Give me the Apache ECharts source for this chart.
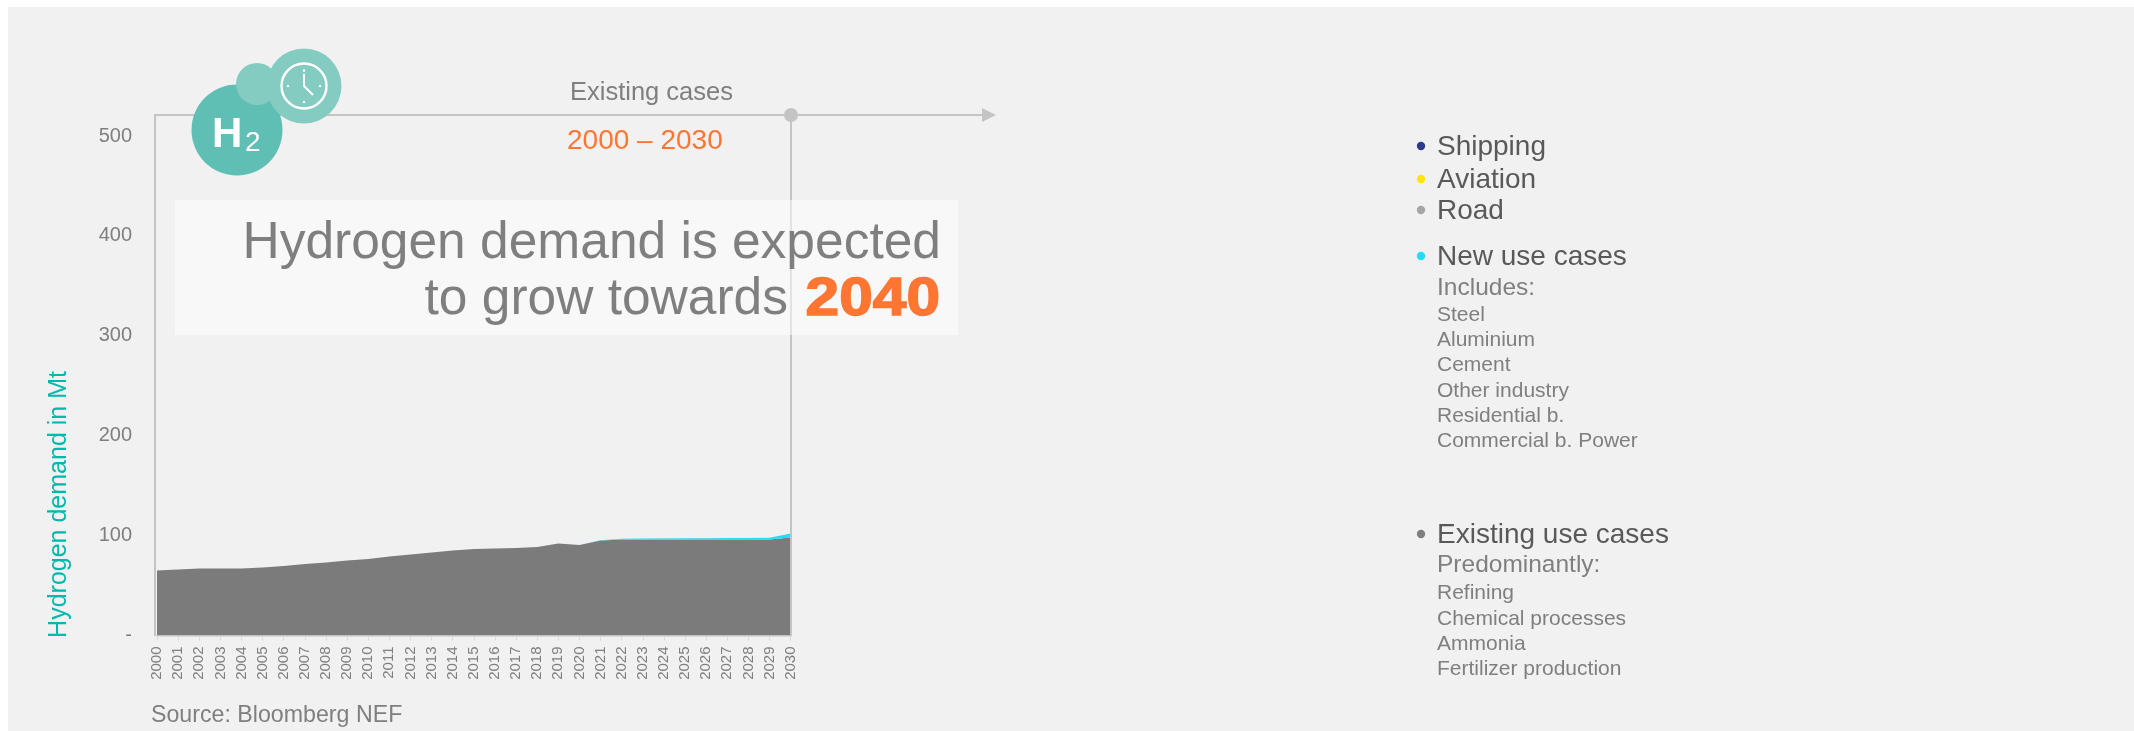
<!DOCTYPE html>
<html><head><meta charset="utf-8">
<style>html,body{margin:0;padding:0;background:#fff}#c{width:2134px;height:731px}</style>
<script src="https://cdn.jsdelivr.net/npm/echarts@6/dist/echarts.min.js"></script>
</head><body><div id="c"></div>
<script>
const years = ['2000','2001','2002','2003','2004','2005','2006','2007','2008','2009','2010','2011','2012','2013','2014','2015','2016','2017','2018','2019','2020','2021','2022','2023','2024','2025','2026','2027','2028','2029','2030'];
const existingUse = [65,66,67,67,67,68,69.5,71.5,73,75,76.5,79,81,83,85,86.5,87,87.5,88.5,92,90.5,95,96,96,96,96,96,96,96,96,98];
const newUse = [0,0,0,0,0,0,0,0,0,0,0,0,0,0,0,0,0,0,0,0,0,0.4,0.8,1,1.2,1.3,1.4,1.5,1.5,1.8,4];
const road = [0,0,0,0,0,0,0,0,0,0,0,0,0,0,0,0,0,0,0,0,0,0,0.1,0.1,0.1,0.1,0.1,0.1,0.1,0.1,0.2];
const aviation = [0,0,0,0,0,0,0,0,0,0,0,0,0,0,0,0,0,0,0,0,0,0,0,0,0,0,0,0,0,0,0];
const shipping = [0,0,0,0,0,0,0,0,0,0,0,0,0,0,0,0,0,0,0,0,0,0,0,0,0,0,0,0,0,0,0];

const FONT = '"Liberation Sans", Arial, sans-serif';
const GREY = '#7f7f7f', DARK = '#595959', LINE = '#c4c4c4', ORANGE = '#ff7532', TEAL = '#5fbfb4', TEAL2 = '#84ccc1';

const chart = echarts.init(document.getElementById('c'), null, {renderer:'canvas'});
const G = {left:157, right:790.7, top:136, bottom:635.5};

function areaSeries(name, data, color){
  return {name, type:'line', stack:'h2', data, symbol:'none', silent:true,
    lineStyle:{width:0}, areaStyle:{color, opacity:1}, itemStyle:{color}, z:3};
}
function text(x,y,t,size,fill,style,el){
  return Object.assign({type:'text', x, y, z:20, style:Object.assign({text:t, font:`${size}px ${FONT}`, fill, verticalAlign:'middle'}, style||{})}, el||{});
}
function dot(x,y,fill){ return {type:'circle', z:20, shape:{cx:x,cy:y,r:4.2}, style:{fill}}; }

// legend column: text y, marker y (when it has one), label, font size, colour, marker colour
const LX = 1437, DX = 1421;
const legendEntries = [
  [147,146,'Shipping',28,DARK,'#2e3a8c'],[180,179,'Aviation',28,DARK,'#ffe600'],[211,210,'Road',28,DARK,'#a6a6a6'],
  [257,256,'New use cases',28,DARK,'#22dcf5'],[288,0,'Includes:',24.5,GREY],
  [315,0,'Steel',21,GREY],[340,0,'Aluminium',21,GREY],[365,0,'Cement',21,GREY],[391,0,'Other industry',21,GREY],
  [416,0,'Residential b.',21,GREY],[441,0,'Commercial b. Power',21,GREY],
  [535,534,'Existing use cases',28,DARK,'#7f7f7f'],[565,0,'Predominantly:',24.5,GREY],
  [593,0,'Refining',21,GREY],[619,0,'Chemical processes',21,GREY],[644,0,'Ammonia',21,GREY],[669,0,'Fertilizer production',21,GREY]
];
const legendGfx = [];
legendEntries.forEach(e=>{
  legendGfx.push(text(LX,e[0],e[2],e[3],e[4]));
  if(e[5]) legendGfx.push(dot(DX,e[1],e[5]));
});

// clock dial marks around the centre (304,86)
const clockTicks = [[304,70.5],[304,102],[288,86],[320,86]].map(p=>({type:'circle',z:16,shape:{cx:p[0],cy:p[1],r:1.2},style:{fill:'#fff'}}));

chart.setOption({
  animation:false,
  backgroundColor:'#fff',
  grid:{left:G.left, top:G.top, width:G.right-G.left, height:G.bottom-G.top, containLabel:false},
  xAxis:{type:'category', data:years, boundaryGap:false,
    axisLine:{show:true,lineStyle:{color:'#d9d9d9',width:2}},
    axisTick:{show:true,alignWithLabel:true,length:5,lineStyle:{color:'#d9d9d9',width:1}},
    axisLabel:{interval:0,rotate:90,fontFamily:FONT,fontSize:15,color:GREY,margin:11}},
  yAxis:{type:'value',min:0,max:500,interval:100,
    axisLine:{show:false},axisTick:{show:false},splitLine:{show:false},
    axisLabel:{fontFamily:FONT,fontSize:20,color:GREY,margin:25,
      formatter:v=>v===0?'-':String(v)}},
  series:[
    areaSeries('Existing use cases',existingUse,'#7b7b7b'),
    areaSeries('New use cases',newUse,'#22dcf5'),
    areaSeries('Road',road,'#a6a6a6'),
    areaSeries('Aviation',aviation,'#ffe600'),
    areaSeries('Shipping',shipping,'#2e3a8c')
  ],
  graphic:{elements:[
    {type:'rect',z:-10,silent:true,shape:{x:8,y:7,width:2126,height:724},style:{fill:'#f1f1f1'}},
    // frame around the existing-cases period
    {type:'line',z:5,shape:{x1:155,y1:114,x2:155,y2:636},style:{stroke:LINE,lineWidth:2}},
    {type:'line',z:5,shape:{x1:155,y1:115,x2:985,y2:115},style:{stroke:LINE,lineWidth:2}},
    {type:'line',z:5,shape:{x1:791,y1:115,x2:791,y2:636},style:{stroke:LINE,lineWidth:2}},
    {type:'polygon',z:5,shape:{points:[[982,108],[996,115],[982,122]]},style:{fill:LINE}},
    {type:'circle',z:5,shape:{cx:791,cy:115,r:7},style:{fill:LINE}},
    text(570,93,'Existing cases',25.5,GREY),
    text(567,141,'2000 – 2030',28,ORANGE),
    text(59,504.5,'Hydrogen demand in Mt',25,'#00b9ad',{textAlign:'center'},{rotation:Math.PI/2}),
    // translucent headline panel
    {type:'rect',z:9,shape:{x:175,y:200,width:783,height:135},style:{fill:'rgba(255,255,255,0.5)'}},
    text(941,244,'Hydrogen demand is expected',51.5,GREY,{textAlign:'right'}),
    text(788,300,'to grow towards',51.5,GREY,{textAlign:'right'}),
    text(940,300,'2040',53,ORANGE,{textAlign:'right',font:`bold 53px ${FONT}`,stroke:ORANGE,lineWidth:1.5},{scaleX:1.14}),
    // hydrogen and clock badge
    {type:'circle',z:12,shape:{cx:237,cy:130,r:45.5},style:{fill:TEAL}},
    {type:'circle',z:13,shape:{cx:304,cy:86,r:37.5},style:{fill:TEAL2}},
    {type:'circle',z:14,shape:{cx:257,cy:84,r:21},style:{fill:TEAL2}},
    {type:'circle',z:15,shape:{cx:304,cy:86,r:22.5},style:{fill:'none',stroke:'#fff',lineWidth:2.4}},
    {type:'polyline',z:16,shape:{points:[[304,74],[304,86],[313,95]]},style:{fill:'none',stroke:'#fff',lineWidth:2}},
    ...clockTicks,
    text(212,135,'H',42,'#fff',{font:`bold 42px ${FONT}`}),
    text(245,143,'2',28,'#fff'),
    text(151,716,'Source: Bloomberg NEF',23.2,GREY),
    ...legendGfx
  ]}
});
</script></body></html>
